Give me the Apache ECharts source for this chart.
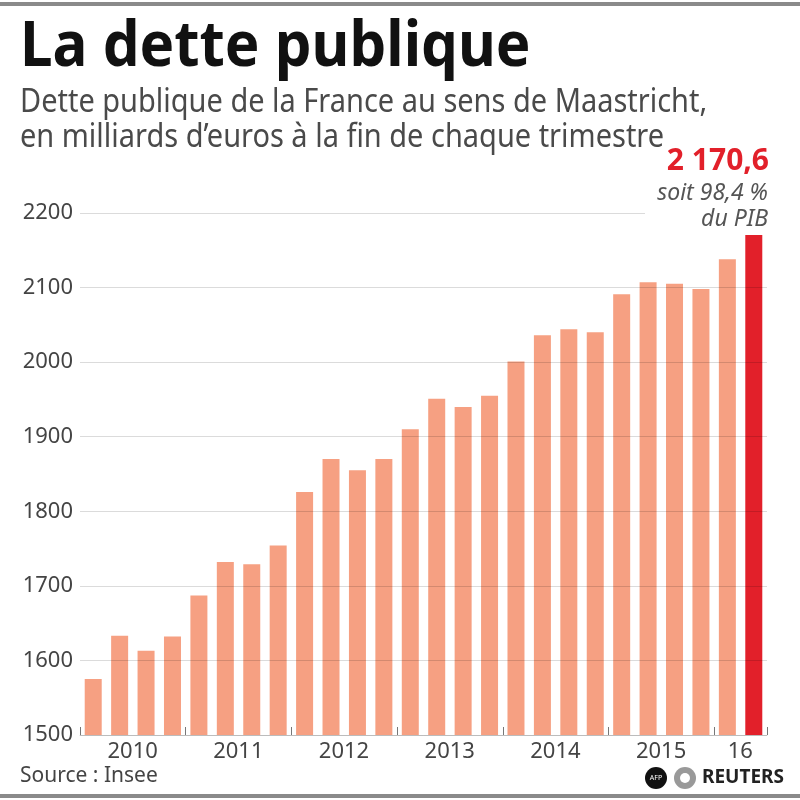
<!DOCTYPE html>
<html>
<head>
<meta charset="utf-8">
<script src="https://cdn.jsdelivr.net/npm/echarts@6/dist/echarts.min.js"></script>
<style>
html,body{margin:0;padding:0;background:#fff;}
#chart{width:800px;height:800px;}
</style>
</head>
<body>
<div id="chart"></div>
<script>
// Data (milliards d'euros, fin de trimestre)
const quarters = [
  '2010 T1','2010 T2','2010 T3','2010 T4',
  '2011 T1','2011 T2','2011 T3','2011 T4',
  '2012 T1','2012 T2','2012 T3','2012 T4',
  '2013 T1','2013 T2','2013 T3','2013 T4',
  '2014 T1','2014 T2','2014 T3','2014 T4',
  '2015 T1','2015 T2','2015 T3','2015 T4',
  '2016 T1','2016 T2'
];
const debtValues = [
  1575, 1633, 1613, 1632,
  1687, 1732, 1729, 1754,
  1826, 1870, 1855, 1870,
  1910, 1951, 1940, 1955,
  2001, 2036, 2044, 2040,
  2091, 2107, 2105, 2098,
  2138, 2170.6
];
const yearLabels = ['2010','2011','2012','2013','2014','2015','16'];
const yTicks = [1500, 1600, 1700, 1800, 1900, 2000, 2100, 2200];

const titleText = 'La dette publique';
const subtitleLines = ['Dette publique de la France au sens de Maastricht,', 'en milliards d\u2019euros \u00e0 la fin de chaque trimestre'];
const annotValue = '2 170,6';
const annotLines = ['soit 98,4 %', 'du PIB'];
const sourceText = 'Source : Insee';

const salmon = '#F6A082';
const red = '#E2202A';
const lastIdx = debtValues.length - 1;

const chart = echarts.init(document.getElementById('chart'), null, {renderer: 'canvas'});

const seriesData = debtValues.map((v, i) => ({
  value: v,
  itemStyle: {color: i === lastIdx ? red : salmon}
}));

const font = '"Noto Sans", sans-serif';

chart.setOption({
  animation: false,
  backgroundColor: '#fff',
  grid: {left: 80, right: 33, top: 213, bottom: 65, containLabel: false, outerBoundsMode: 'none'},
  xAxis: {
    type: 'category',
    data: quarters,
    boundaryGap: true,
    z: 3,
    axisLine: {show: true, lineStyle: {color: 'rgba(0,0,0,0.14)', width: 1}},
    axisTick: {
      show: true, inside: true, length: 8,
      interval: function (idx) { return idx % 4 === 0; },
      lineStyle: {color: '#777', width: 1}
    },
    axisLabel: {
      interval: function (idx) { return (idx < 24 && idx % 4 === 1) || idx === 24; },
      formatter: function (val, idx) {
        if (idx >= 24) return yearLabels[6];
        return yearLabels[Math.floor(idx / 4)];
      },
      padding: [0, 0, 0, 26],
      margin: 6,
      color: '#444',
      fontSize: 22,
      fontFamily: font
    },
    splitLine: {show: false}
  },
  yAxis: {
    type: 'value',
    min: yTicks[0],
    max: yTicks[yTicks.length - 1],
    interval: 100,
    z: 3,
    axisLine: {show: false},
    axisTick: {show: false},
    axisLabel: {
      color: '#444', fontSize: 22, fontFamily: font, margin: 7,
      formatter: function (v) { return String(v); }
    },
    splitLine: {show: true, lineStyle: {color: 'rgba(0,0,0,0.14)', width: 1}}
  },
  series: [{
    type: 'bar',
    data: seriesData,
    barWidth: 17,
    z: 2
  }],
  graphic: [
    {type: 'rect', shape: {x: 0, y: 2, width: 800, height: 4}, style: {fill: '#8a8a8a'}, z: 10},
    {type: 'rect', shape: {x: 0, y: 794, width: 800, height: 4}, style: {fill: '#8a8a8a'}, z: 10},
    {type: 'text', x: 20, y: 17, scaleX: 0.925, style: {text: titleText, font: 'bold 63px ' + font, fill: '#111', textVerticalAlign: 'top'}, z: 10},
    {type: 'text', x: 20, y: 86, scaleX: 0.878, style: {text: subtitleLines[0], font: '33px ' + font, fill: '#4a4a4a', textVerticalAlign: 'top'}, z: 10},
    {type: 'text', x: 20, y: 121, scaleX: 0.878, style: {text: subtitleLines[1], font: '33px ' + font, fill: '#4a4a4a', textVerticalAlign: 'top'}, z: 10},
    {type: 'rect', shape: {x: 645, y: 152, width: 140, height: 78}, style: {fill: '#fff'}, z: 20},
    {type: 'text', x: 769, y: 146, style: {text: annotValue, font: 'bold 30px ' + font, fill: red, textAlign: 'right', textVerticalAlign: 'top'}, z: 21},
    {type: 'text', x: 768, y: 182, style: {text: annotLines[0], font: 'italic 23px ' + font, fill: '#555', textAlign: 'right', textVerticalAlign: 'top'}, z: 21},
    {type: 'text', x: 768, y: 208, style: {text: annotLines[1], font: 'italic 23px ' + font, fill: '#555', textAlign: 'right', textVerticalAlign: 'top'}, z: 21},
    {type: 'text', x: 20, y: 766, style: {text: sourceText, font: '21px ' + font, fill: '#444', textVerticalAlign: 'top'}, z: 10},
    {type: 'circle', shape: {cx: 656, cy: 778, r: 11}, style: {fill: '#111'}, z: 10},
    {type: 'text', x: 656, y: 778, style: {text: 'AFP', font: '7px ' + font, fill: '#fff', textAlign: 'center', textVerticalAlign: 'middle'}, z: 11},
    {type: 'circle', shape: {cx: 685, cy: 778, r: 11}, style: {fill: '#999'}, z: 10},
    {type: 'circle', shape: {cx: 685, cy: 778, r: 5}, style: {fill: '#fff'}, z: 11},
    {type: 'text', x: 702, y: 778, style: {text: 'REUTERS', font: 'bold 19px ' + font, fill: '#222', textVerticalAlign: 'middle'}, z: 10}
  ]
});
</script>
</body>
</html>
